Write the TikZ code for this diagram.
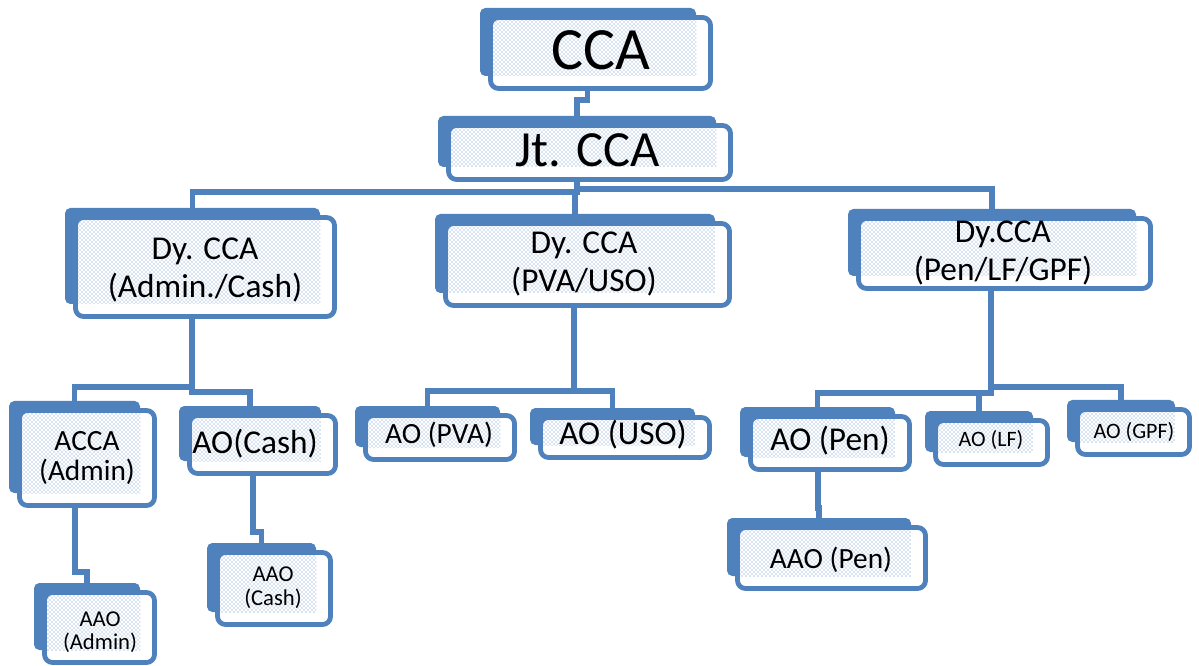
\documentclass[tikz,border=0pt]{standalone}
\usepackage{fontspec}
\setmainfont{Carlito}
\usetikzlibrary{patterns}
\definecolor{boxblue}{RGB}{79,129,189}
\definecolor{dotblue}{RGB}{95,140,205}
\tikzset{
  backbox/.style={fill=boxblue, draw=none, rounded corners=4pt, inner sep=0pt, outer sep=0pt},
  frontbox/.style={fill=white, draw=boxblue, line width=3.6pt, rounded corners=6pt, inner sep=0pt},
  conn/.style={draw=boxblue, line width=4pt},
  txt/.style={inner sep=0pt, align=center, text=black}
}
\newcommand\orgbox[5]{%
  \node[backbox, minimum width={(#4-#2-9)*0.75pt}, minimum height={(#5-#3-8)*0.75pt}] (#1-b) at ({(#2+#4-25)/2},{(#3+#5-22)/2}) {};
  \node[frontbox, minimum width={(#4-#2-5)*0.75pt}, minimum height={(#5-#3-5)*0.75pt}] (#1) at ({(#2+#4)/2},{(#3+#5)/2}) {};
  \fill[pattern=crosshatch dots, pattern color=dotblue] (#2+5,#3+5) rectangle (#4-17,#5-15);
}
\begin{document}
\begin{tikzpicture}[x=0.75pt, y=-0.75pt]
\fill[white] (0,0) rectangle (1199,666);
\useasboundingbox (0,0) rectangle (1199,666);

% boxes
\orgbox{cca}{488}{15}{713}{91}
\orgbox{jt}{446}{123}{733}{182}
\orgbox{dya}{73}{215}{337}{319}
\orgbox{dyp}{443}{221}{732}{308}
\orgbox{dyg}{856}{216}{1153}{291}
\orgbox{acca}{17}{408}{157}{508}
\orgbox{aaoa}{42}{590}{157}{665}
\orgbox{aoc}{187}{413}{338}{476}
\orgbox{aaoc}{215}{550}{333}{627}
\orgbox{aop}{363}{413}{517}{462}
\orgbox{aou}{538}{415}{712}{460}
\orgbox{aopen}{748}{414}{912}{472}
\orgbox{aaopen}{735}{525}{928}{591}
\orgbox{aolf}{933}{418}{1050}{467}
\orgbox{aogpf}{1075}{407}{1192}{457}

% texts
\node[txt, font=\fontsize{45pt}{48pt}\selectfont] (cca-t) at (601,50) {CCA};
\node[txt, font=\fontsize{38pt}{41pt}\selectfont] (jt-t) at (588,150) {Jt. CCA};
\node[txt, font=\fontsize{25pt}{28pt}\selectfont] (dya-t) at (205,270) {Dy. CCA\\(Admin./Cash)};
\node[txt, font=\fontsize{25pt}{28pt}\selectfont] (dyp-t) at (584,264) {Dy. CCA\\(PVA/USO)};
\node[txt, font=\fontsize{25pt}{29pt}\selectfont] (dyg-t) at (1003,253) {Dy.CCA\\(Pen/LF/GPF)};
\node[txt, font=\fontsize{22pt}{22.5pt}\selectfont] (acca-t) at (87,458) {ACCA\\(Admin)};
\node[txt, font=\fontsize{17pt}{17.5pt}\selectfont] (aaoa-t) at (100,632) {AAO\\(Admin)};
\node[txt, font=\fontsize{25pt}{28pt}\selectfont] (aoc-t) at (255,444) {AO(Cash)};
\node[txt, font=\fontsize{17pt}{18pt}\selectfont] (aaoc-t) at (273,588) {AAO\\(Cash)};
\node[txt, font=\fontsize{22pt}{24pt}\selectfont] (aop-t) at (439,435) {AO (PVA)};
\node[txt, font=\fontsize{25pt}{28pt}\selectfont] (aou-t) at (623,435) {AO (USO)};
\node[txt, font=\fontsize{25pt}{28pt}\selectfont] (aopen-t) at (830,441) {AO (Pen)};
\node[txt, font=\fontsize{22pt}{24pt}\selectfont] (aaopen-t) at (831,560) {AAO (Pen)};
\node[txt, font=\fontsize{16.5pt}{18pt}\selectfont] (aolf-t) at (991,440) {AO (LF)};
\node[txt, font=\fontsize{16.5pt}{18pt}\selectfont] (aogpf-t) at (1134,432) {AO (GPF)};

% connectors
\draw[conn] ([xshift=-10pt]cca.south) -- ++(0,9) -| (jt-b.north);
\draw[conn] ([xshift=-9.4pt]jt.south) -- ++(0,10) -| (dya-b.north);
\draw[conn] ([xshift=-9.4pt]jt.south) -- ++(0,10) -| (dyp-b.north);
\draw[conn] ([xshift=-9.4pt]jt.south) -- ++(0,7) -| (dyg-b.north);
\draw[conn] ([xshift=-9.75pt]dya.south) -- ++(0,68) -| (acca-b.north);
\draw[conn] ([xshift=-9.75pt]dya.south) -- ++(0,73) -| (aoc-b.north);
\draw[conn] ([xshift=-9pt]acca.south) -- ++(0,64) -| (aaoa-b.north);
\draw[conn] ([xshift=-7.1pt]aoc.south) -- ++(0,56) -| (aaoc-b.north);
\draw[conn] ([xshift=-10.1pt]dyp.south) -- ++(0,83) -| (aop-b.north);
\draw[conn] ([xshift=-10.1pt]dyp.south) -- ++(0,83) -| (aou-b.north);
\draw[conn] ([xshift=-10.1pt]dyg.south) -- ++(0,102) -| (aopen-b.north);
\draw[conn] ([xshift=-10.1pt]dyg.south) -- ++(0,102) -| (aolf-b.north);
\draw[conn] ([xshift=-10.1pt]dyg.south) -- ++(0,96) -| (aogpf-b.north);
\draw[conn] ([xshift=-9pt]aopen.south) -- ++(0,36) -| (aaopen-b.north);
\end{tikzpicture}
\end{document}
